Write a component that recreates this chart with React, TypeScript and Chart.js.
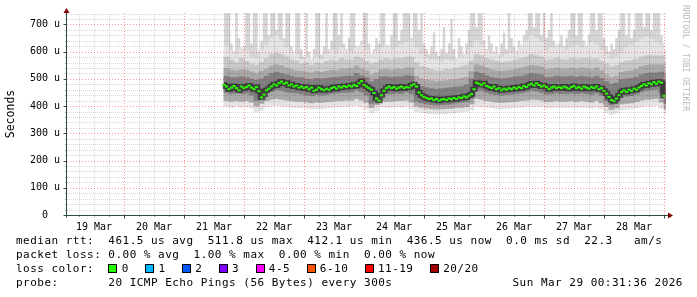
import React, { useEffect, useRef } from "react";
import { Chart, registerables } from "chart.js";

Chart.register(...registerables);

// ---- time axis (hours after 19 Mar 00:00) ----
const X_MIN = 1.2;
const X_MAX = 240.8;
const BAND_START_HOUR = 65; // centre of first 2-hour smoke column
const BAND_STEP_HOURS = 2;
const HOURLY_START = 64; // first hourly sample

// ---- median RTT (microseconds), hourly from 21 Mar 16:00 ----
const MEDIAN = [
  478, 472, 462, 468, 474, 466, 458, 472, 466, 470,
  476, 468, 462, 470, 455, 432, 442, 458, 464, 472,
  480, 476, 484, 490, 482, 486, 476, 480, 472, 476,
  468, 472, 466, 470, 462, 468, 456, 460, 468, 462,
  458, 464, 460, 466, 470, 464, 472, 468, 474, 470,
  476, 472, 478, 474, 484, 492, 478, 472, 466, 460,
  448, 428, 420, 440, 456, 466, 472, 466, 470, 464,
  468, 472, 466, 470, 468, 476, 480, 472, 450, 440,
  434, 430, 426, 428, 422, 426, 420, 424, 426, 422,
  428, 425, 430, 426, 432, 430, 436, 432, 438, 444,
  462, 486, 482, 478, 484, 474, 470, 466, 472, 462,
  466, 458, 464, 460, 466, 462, 468, 464, 470, 466,
  474, 470, 478, 482, 476, 484, 478, 472, 476, 470,
  462, 468, 472, 466, 470, 466, 472, 468, 464, 470,
  474, 466, 470, 464, 472, 468, 464, 470, 466, 472,
  462, 466, 456, 446, 434, 422, 418, 428, 440, 452,
  458, 452, 460, 456, 464, 460, 468, 474, 480, 476,
  484, 480, 488, 482, 490, 486, 438,
];

// ---- smoke: highest ping per hour (742 = off the top) ----
const SPIKE_TOP = [
  742, 742, 742, 630, 600, 742, 650, 590, 620, 742,
  742, 630, 742, 742, 600, 640, 742, 742, 660, 742,
  742, 680, 742, 742, 650, 742, 742, 620, 590, 742,
  742, 610, 580, 742, 600, 570, 610, 742, 742, 590,
  620, 742, 610, 640, 742, 742, 660, 742, 630, 610,
  650, 742, 742, 620, 600, 640, 742, 742, 630, 590,
  610, 650, 630, 742, 742, 620, 610, 660, 742, 742,
  640, 680, 742, 742, 742, 650, 742, 742, 680, 742,
  630, 610, 590, 620, 670, 600, 585, 610, 690, 595,
  630, 720, 610, 575, 650, 620, 590, 630, 680, 742,
  742, 690, 742, 742, 640, 610, 660, 630, 600, 620,
  585, 630, 670, 610, 742, 650, 620, 600, 640, 610,
  660, 680, 742, 742, 690, 742, 742, 660, 742, 650,
  680, 742, 640, 610, 630, 660, 620, 650, 680, 742,
  742, 660, 742, 742, 640, 620, 660, 742, 742, 680,
  742, 742, 650, 620, 600, 630, 610, 650, 680, 742,
  742, 660, 742, 650, 680, 742, 742, 742, 690, 742,
  742, 680, 742, 742, 742, 660, 630,
];

// ---- smoke bands, 2-hour columns from 21 Mar 17:00 ----
const CLOUD_TOP = [
  620, 605, 590, 615, 600, 580, 575, 605, 625, 650,
  660, 640, 615, 600, 590, 570, 580, 565, 580, 570,
  590, 605, 595, 615, 605, 595, 615, 625, 605, 590,
  600, 615, 625, 605, 615, 625, 635, 640, 615, 590,
  580, 570, 570, 560, 570, 565, 570, 580, 590, 615,
  640, 625, 605, 595, 590, 580, 590, 595, 605, 625,
  640, 660, 650, 635, 605, 615, 625, 615, 605, 615,
  625, 615, 625, 635, 625, 605, 590, 575, 580, 595,
  615, 625, 635, 645, 655, 645, 635, 625, 605,
];
const SMOKE_HI = [
  580, 570, 560, 575, 565, 555, 550, 560, 575, 590,
  595, 590, 580, 570, 565, 555, 560, 550, 560, 555,
  565, 570, 565, 575, 570, 570, 580, 575, 565, 555,
  560, 570, 575, 570, 575, 575, 580, 580, 560, 545,
  540, 535, 530, 530, 535, 535, 540, 545, 550, 565,
  590, 585, 575, 570, 565, 560, 562, 565, 570, 575,
  580, 590, 585, 580, 570, 572, 575, 572, 570, 575,
  572, 575, 575, 572, 575, 565, 555, 545, 550, 560,
  565, 568, 572, 580, 585, 585, 585, 585, 560,
];
const MID_HI = [
  538, 532, 530, 534, 532, 526, 520, 528, 536, 548,
  552, 548, 540, 535, 530, 528, 526, 522, 528, 524,
  528, 532, 530, 536, 536, 538, 548, 538, 530, 515,
  522, 534, 536, 532, 536, 535, 540, 540, 510, 500,
  496, 493, 490, 492, 494, 496, 498, 502, 506, 528,
  552, 548, 540, 534, 530, 528, 530, 532, 536, 540,
  545, 550, 548, 544, 534, 536, 540, 537, 536, 540,
  536, 540, 538, 534, 540, 530, 515, 505, 510, 524,
  528, 530, 535, 545, 550, 552, 552, 552, 520,
];
const DARK_HI = [
  510, 505, 505, 508, 505, 500, 495, 500, 510, 520,
  525, 520, 515, 510, 505, 505, 500, 498, 502, 500,
  502, 505, 505, 508, 510, 510, 520, 512, 505, 490,
  498, 508, 508, 505, 508, 508, 512, 510, 480, 472,
  468, 465, 462, 464, 466, 468, 470, 472, 478, 500,
  525, 520, 512, 505, 502, 500, 502, 505, 508, 510,
  515, 520, 518, 515, 505, 506, 510, 508, 508, 510,
  506, 510, 508, 505, 510, 502, 490, 480, 485, 498,
  500, 502, 506, 515, 520, 522, 522, 525, 490,
];
const DARK_LO = [
  450, 445, 448, 446, 448, 440, 420, 430, 448, 455,
  460, 458, 452, 450, 448, 445, 440, 438, 442, 440,
  442, 446, 448, 450, 450, 452, 460, 452, 440, 410,
  428, 448, 446, 445, 448, 446, 452, 445, 418, 412,
  408, 405, 404, 405, 406, 408, 412, 414, 416, 430,
  460, 458, 450, 445, 442, 440, 442, 444, 446, 448,
  452, 458, 455, 450, 444, 445, 448, 446, 446, 448,
  445, 448, 446, 442, 448, 440, 420, 405, 412, 432,
  436, 438, 444, 452, 458, 460, 462, 445, 410,
];
const SMOKE_LO = [
  420, 418, 420, 418, 420, 415, 400, 410, 420, 425,
  428, 425, 422, 420, 418, 418, 415, 412, 415, 414,
  416, 418, 420, 420, 422, 422, 428, 422, 414, 395,
  405, 420, 418, 418, 420, 420, 422, 415, 400, 396,
  393, 390, 389, 390, 391, 392, 395, 396, 398, 408,
  428, 425, 420, 418, 415, 414, 415, 416, 418, 420,
  422, 425, 424, 422, 416, 417, 420, 418, 418, 420,
  417, 420, 418, 415, 420, 412, 398, 388, 394, 408,
  410, 412, 416, 422, 425, 426, 428, 415, 390,
];
const SMOKE_MIN = [
  398, 395, 400, 396, 398, 392, 378, 385, 398, 400,
  402, 400, 398, 396, 395, 394, 392, 390, 392, 390,
  393, 395, 397, 398, 398, 400, 402, 398, 390, 375,
  382, 398, 396, 395, 398, 397, 400, 392, 380, 376,
  374, 372, 370, 372, 372, 374, 376, 378, 380, 386,
  400, 398, 396, 394, 392, 390, 392, 393, 395, 396,
  398, 400, 399, 398, 393, 394, 396, 395, 395, 396,
  394, 396, 395, 392, 396, 390, 378, 368, 374, 386,
  388, 390, 394, 398, 400, 400, 402, 392, 372,
];

// ---- axes ----
const Y_MAX = 742;
const Y_LABEL_VALUES = [0, 100, 200, 300, 400, 500, 600, 700];
const Y_LABELS = ["0  ", "100 u", "200 u", "300 u", "400 u", "500 u", "600 u", "700 u"];
const DAY_LABELS = ["19 Mar", "20 Mar", "21 Mar", "22 Mar", "23 Mar", "24 Mar", "25 Mar", "26 Mar", "27 Mar", "28 Mar"];

// ---- legend texts ----
const RTT_LINE = "median rtt:  461.5 us avg  511.8 us max  412.1 us min  436.5 us now  0.0 ms sd  22.3   am/s";
const LOSS_LINE = "packet loss: 0.00 % avg  1.00 % max  0.00 % min  0.00 % now";
const LOSS_TITLE = "loss color:  ";
const LOSS_LABELS = ["0", "1", "2", "3", "4-5", "6-10", "11-19", "20/20"];
const LOSS_COLORS = ["#26ff00", "#00b8ff", "#0059ff", "#7e00ff", "#ff00ff", "#ff5500", "#ff0000", "#a10000"];
const PROBE_LINE = "probe:       20 ICMP Echo Pings (56 Bytes) every 300s";
const DATE_STAMP = "Sun Mar 29 00:31:36 2026";
const WATERMARK = "RRDTOOL / TOBI OETIKER";

const MONO = "'DejaVu Sans Mono', monospace";

const bandHour = (i: number) => BAND_START_HOUR + i * BAND_STEP_HOURS;
const band = (lo: number[], hi: number[]) => lo.map((v, i) => ({ x: bandHour(i), y: [v, hi[i]] }));
const hourly = (arr: number[]) => arr.map((v, j) => ({ x: HOURLY_START + j, y: v }));

const rrdPlugin = {
  id: "rrdGrid",
  afterDatasetsDraw(chart: any) {
    const { ctx, chartArea: a, scales } = chart;
    const x = scales.x;
    const y = scales.y;
    ctx.save();
    ctx.lineWidth = 1;
    const minor = "rgba(0,0,0,0.15)";
    const major = "rgba(255,0,0,0.42)";
    for (const pass of [0, 1]) {
      ctx.setLineDash(pass === 1 ? [1, 2] : [1, 1]);
      for (let h = Math.ceil(x.min / 6) * 6; h <= x.max; h += 6) {
        const isMajor = h % 24 === 0;
        if ((pass === 1) !== isMajor) continue;
        const px = Math.round(x.getPixelForValue(h)) + 0.5;
        ctx.strokeStyle = isMajor ? major : minor;
        ctx.beginPath();
        ctx.moveTo(px, a.bottom);
        ctx.lineTo(px, a.top);
        ctx.stroke();
      }
      for (let v = 20; v <= y.max; v += 20) {
        const isMajor = v % 100 === 0;
        if ((pass === 1) !== isMajor) continue;
        const py = Math.round(y.getPixelForValue(v)) + 0.5;
        ctx.strokeStyle = isMajor ? major : minor;
        ctx.beginPath();
        ctx.moveTo(a.left, py);
        ctx.lineTo(a.right, py);
        ctx.stroke();
      }
    }
    ctx.restore();
  },
  afterDraw(chart: any) {
    const { ctx, chartArea: a, scales } = chart;
    const x = scales.x;
    const y = scales.y;
    ctx.save();
    ctx.setLineDash([]);
    ctx.lineWidth = 1;
    ctx.strokeStyle = "#2c4d43";
    const ax = Math.round(a.left) - 0.5;
    const ay = Math.round(a.bottom) + 0.5;
    ctx.beginPath();
    ctx.moveTo(ax, a.top - 1);
    ctx.lineTo(ax, ay + 2);
    ctx.moveTo(ax - 3, ay);
    ctx.lineTo(a.right + 4, ay);
    ctx.stroke();
    ctx.beginPath();
    for (let v = 20; v <= y.max; v += 20) {
      const py = Math.round(y.getPixelForValue(v)) + 0.5;
      const len = v % 100 === 0 ? 3 : 1;
      ctx.moveTo(ax - len, py);
      ctx.lineTo(ax, py);
    }
    for (let h = Math.ceil(x.min / 6) * 6; h <= x.max; h += 6) {
      const px = Math.round(x.getPixelForValue(h)) + 0.5;
      const len = h % 24 === 0 ? 3 : 1;
      ctx.moveTo(px, ay);
      ctx.lineTo(px, ay + len);
    }
    ctx.stroke();
    ctx.fillStyle = "#7f0000";
    ctx.beginPath();
    ctx.moveTo(ax - 3, a.top);
    ctx.lineTo(ax + 3, a.top);
    ctx.lineTo(ax, a.top - 5);
    ctx.closePath();
    ctx.fill();
    const rx = a.right + 2;
    ctx.beginPath();
    ctx.moveTo(rx, ay - 3);
    ctx.lineTo(rx, ay + 3);
    ctx.lineTo(rx + 5, ay);
    ctx.closePath();
    ctx.fill();
    ctx.restore();
  },
};

const barBase = {
  type: "bar" as const,
  grouped: false,
  barPercentage: 1,
  categoryPercentage: 1,
  borderWidth: 0,
};

export default function App() {
  const ref = useRef<HTMLCanvasElement>(null);

  useEffect(() => {
    const canvas = ref.current;
    if (!canvas) return;
    const chart = new Chart(canvas, {
      type: "bar",
      data: {
        datasets: [
          {
            type: "line",
            label: "spikes",
            data: hourly(SPIKE_TOP),
            stepped: "middle",
            fill: { value: 450 },
            backgroundColor: "#d6d6d6",
            borderWidth: 0,
            pointRadius: 0,
            order: 11,
          },
          { ...barBase, label: "cloud", data: band(SMOKE_MIN, CLOUD_TOP), backgroundColor: "#e4e4e4", order: 10 },
          { ...barBase, label: "medium", data: band(SMOKE_LO, SMOKE_HI), backgroundColor: "#c9c9c9", order: 9 },
          { ...barBase, label: "mid", data: band(SMOKE_LO, MID_HI), backgroundColor: "#a9a9a9", order: 8 },
          { ...barBase, label: "dark", data: band(DARK_LO, DARK_HI), backgroundColor: "#808080", order: 7 },
          {
            type: "line",
            label: "core",
            data: hourly(MEDIAN),
            stepped: "middle",
            borderColor: "rgba(25,25,25,0.65)",
            borderWidth: 5,
            pointRadius: 0,
            fill: false,
            order: 6,
          },
          {
            type: "line",
            label: "median",
            data: hourly(MEDIAN),
            showLine: false,
            pointStyle: "line",
            pointRadius: 1.6,
            pointBorderWidth: 2,
            pointBorderColor: "#2bff00",
            pointBackgroundColor: "#2bff00",
            fill: false,
            order: 5,
          },
        ] as any,
      },
      options: {
        animation: false,
        responsive: false,
        devicePixelRatio: 1,
        events: [],
        layout: { padding: { left: 0, top: 13, right: 31, bottom: 0 } },
        plugins: { legend: { display: false }, tooltip: { enabled: false } },
        scales: {
          x: {
            type: "linear",
            min: X_MIN,
            max: X_MAX,
            offset: false,
            grid: { display: false, drawTicks: false },
            border: { display: false },
            ticks: {
              autoSkip: false,
              maxRotation: 0,
              padding: 6,
              color: "#000",
              font: { family: MONO, size: 10 },
              callback: (_v: any, i: number) => DAY_LABELS[i] ?? "",
            },
            afterBuildTicks: (s: any) => {
              s.ticks = DAY_LABELS.map((_, i) => ({ value: 12 + 24 * i }));
            },
            afterFit: (s: any) => {
              s.height = 82;
            },
          },
          y: {
            type: "linear",
            min: 0,
            max: Y_MAX,
            grid: { display: false, drawTicks: false },
            border: { display: false },
            ticks: {
              padding: 7,
              color: "#000",
              font: { family: MONO, size: 10 },
              callback: (_v: any, i: number) => Y_LABELS[i] ?? "",
            },
            afterBuildTicks: (s: any) => {
              s.ticks = Y_LABEL_VALUES.map((v) => ({ value: v }));
            },
            afterFit: (s: any) => {
              s.width = 67;
            },
            title: {
              display: true,
              text: "Seconds",
              color: "#000",
              font: { family: MONO, size: 11.5 },
              padding: { top: 4, bottom: 0 },
            },
          },
        },
      } as any,
      plugins: [rrdPlugin],
    });
    return () => chart.destroy();
  }, []);

  const textStyle: React.CSSProperties = {
    position: "absolute",
    left: 16,
    font: `11px ${MONO}`,
    letterSpacing: "0.48px",
    whiteSpace: "pre",
    lineHeight: "14px",
    color: "#000",
  };

  return (
    <div style={{ position: "fixed", left: 0, top: 0, width: 697, height: 297, background: "#fff", overflow: "hidden" }}>
      <canvas ref={ref} width={697} height={297} style={{ position: "absolute", left: 0, top: 0 }} />
      <div
        style={{
          position: "absolute",
          left: 681,
          top: 5,
          writingMode: "vertical-rl",
          font: `8px ${MONO}`,
          color: "#b8b8b8",
          whiteSpace: "pre",
        }}
      >
        {WATERMARK}
      </div>
      <div style={{ ...textStyle, top: 233.5 }}>{RTT_LINE}</div>
      <div style={{ ...textStyle, top: 247.8 }}>{LOSS_LINE}</div>
      <div style={{ ...textStyle, top: 262.1 }}>
        {LOSS_TITLE}
        {LOSS_LABELS.map((lab, i) => (
          <span key={lab}>
            <span
              style={{
                display: "inline-block",
                width: 9,
                height: 9,
                boxSizing: "border-box",
                border: "1px solid #000",
                background: LOSS_COLORS[i],
                verticalAlign: "-1px",
                marginRight: 4.3,
              }}
            />
            <span style={{ marginRight: 16.4 }}>{lab}</span>
          </span>
        ))}
      </div>
      <div style={{ ...textStyle, top: 276.4 }}>{PROBE_LINE}</div>
      <div style={{ ...textStyle, left: 512.5, top: 276.4 }}>{DATE_STAMP}</div>
    </div>
  );
}
